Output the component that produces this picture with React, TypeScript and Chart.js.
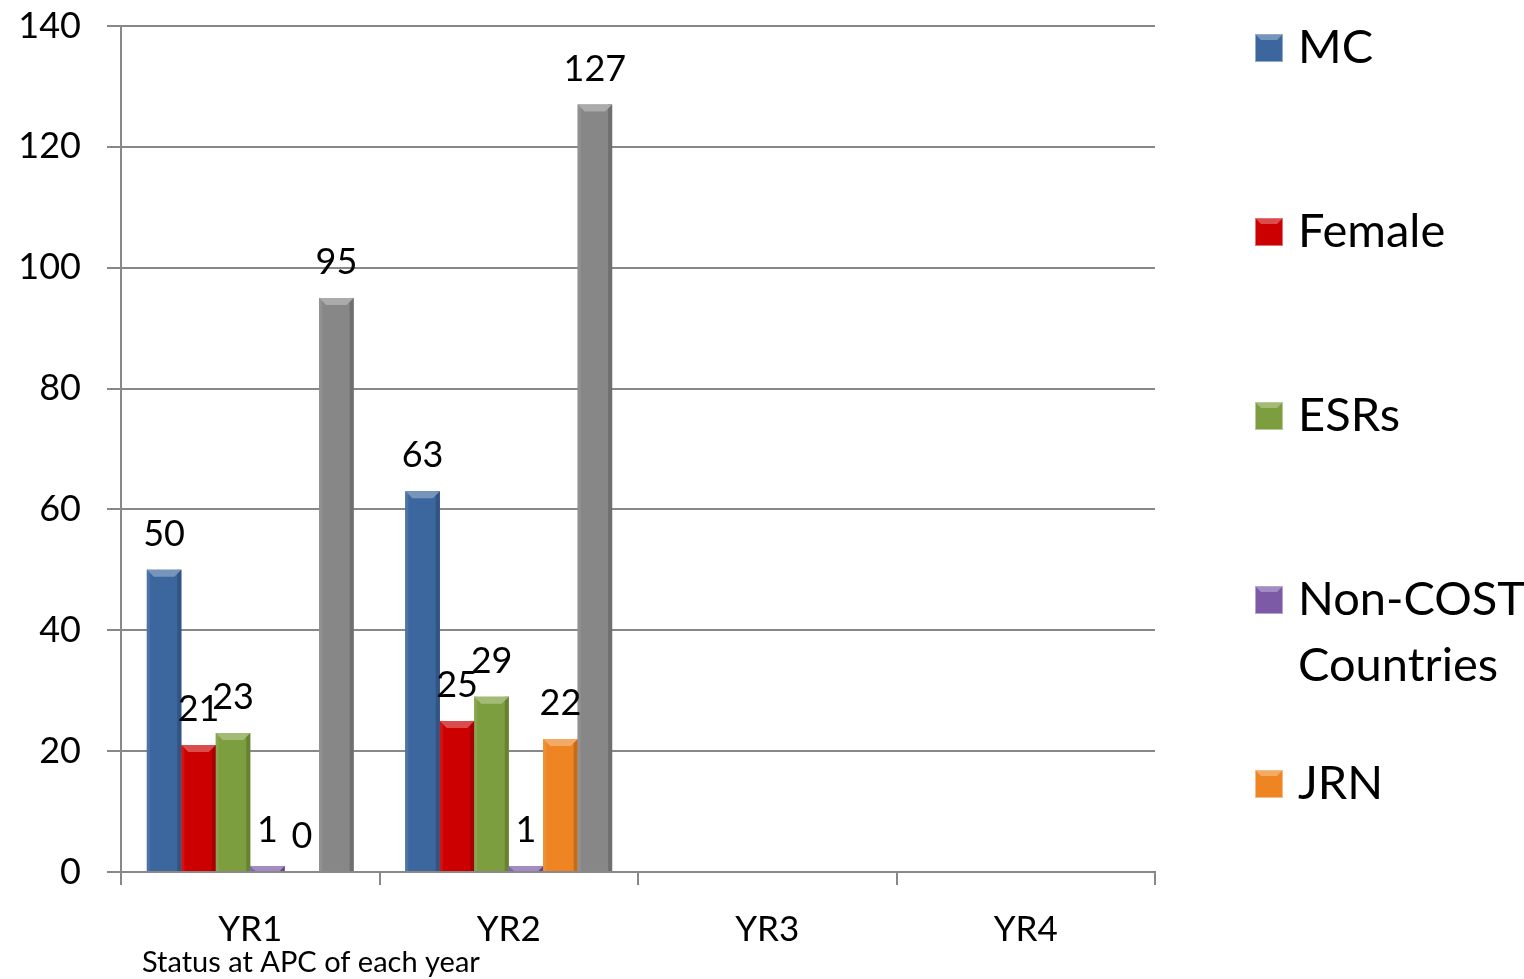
import React, { useEffect, useRef } from "react";
import { Chart, registerables } from "chart.js";

Chart.register(...registerables);

const categories = ["YR1", "YR2", "YR3", "YR4"];
const seriesNames = ["MC", "Female", "ESRs", "Non-COST Countries", "JRN", "Total"];
const mcValues = [50, 63, null, null];
const femaleValues = [21, 25, null, null];
const esrValues = [23, 29, null, null];
const nonCostValues = [1, 1, null, null];
const jrnValues = [0, 22, null, null];
const totalValues = [95, 127, null, null];
const yTicks = [0, 20, 40, 60, 80, 100, 120, 140];
const xTitle = "Status at APC of each year";

const colors = ["#3C679E", "#CC0000", "#7D9E3E", "#7C5AA6", "#EE8522", "#878787"];
const FONT = "Lato, 'Open Sans', sans-serif";

function shade(hex: string, amt: number): string {
  const n = parseInt(hex.slice(1), 16);
  let r = (n >> 16) & 255, g = (n >> 8) & 255, b = n & 255;
  const f = (c: number) => Math.max(0, Math.min(255, Math.round(amt >= 0 ? c + (255 - c) * amt : c * (1 + amt))));
  r = f(r); g = f(g); b = f(b);
  return `rgb(${r},${g},${b})`;
}

const bevelPlugin = {
  id: "bevel",
  afterDatasetsDraw(chart: any) {
    const ctx = chart.ctx;
    chart.data.datasets.forEach((ds: any, di: number) => {
      const meta = chart.getDatasetMeta(di);
      meta.data.forEach((el: any, i: number) => {
        const v = ds.data[i];
        if (v === null || v === undefined) return;
        const left = el.x - el.width / 2;
        const right = el.x + el.width / 2;
        const top = Math.min(el.y, el.base);
        const bottom = Math.max(el.y, el.base);
        const h = bottom - top;
        if (h <= 0) return;
        const base = ds.backgroundColor as string;
        const b = Math.min(7, h);
        ctx.save();
        ctx.fillStyle = shade(base, -0.18);
        ctx.fillRect(right - 4, top, 4, h);
        ctx.fillStyle = shade(base, 0.08);
        ctx.fillRect(left, top, 3, h);
        ctx.fillStyle = shade(base, 0.3);
        ctx.beginPath();
        ctx.moveTo(left, top);
        ctx.lineTo(right, top);
        ctx.lineTo(right - b, top + b);
        ctx.lineTo(left + b, top + b);
        ctx.closePath();
        ctx.fill();
        ctx.restore();
      });
    });
  },
};

const labelPlugin = {
  id: "valueLabels",
  afterDatasetsDraw(chart: any) {
    const ctx = chart.ctx;
    ctx.save();
    ctx.font = `36px ${FONT}`;
    ctx.fillStyle = "#000";
    ctx.textAlign = "center";
    ctx.textBaseline = "alphabetic";
    chart.data.datasets.forEach((ds: any, di: number) => {
      const meta = chart.getDatasetMeta(di);
      meta.data.forEach((el: any, i: number) => {
        const v = ds.data[i];
        if (v === null || v === undefined) return;
        ctx.fillText(String(v), el.x, Math.min(el.y, el.base) - 24);
      });
    });
    ctx.restore();
  },
};

const legendPlugin = {
  id: "customLegend",
  afterDraw(chart: any) {
    const ctx = chart.ctx;
    ctx.save();
    const boxX = 1255;
    const textX = 1298;
    const maxW = 1524 - textX - 2;
    ctx.font = `47px ${FONT}`;
    ctx.textBaseline = "middle";
    ctx.textAlign = "left";
    chart.data.datasets.forEach((ds: any, i: number) => {
      if (ds.hideInLegend) return;
      const cy = 48 + i * 184;
      const col = ds.backgroundColor as string;
      ctx.fillStyle = col;
      ctx.fillRect(boxX, cy - 14, 28, 28);
      ctx.fillStyle = shade(col, 0.3);
      ctx.beginPath();
      ctx.moveTo(boxX, cy - 14);
      ctx.lineTo(boxX + 28, cy - 14);
      ctx.lineTo(boxX + 22, cy - 8);
      ctx.lineTo(boxX + 6, cy - 8);
      ctx.closePath();
      ctx.fill();
      ctx.strokeStyle = shade(col, 0.45);
      ctx.lineWidth = 1;
      ctx.strokeRect(boxX + 0.5, cy - 13.5, 27, 27);
      const words = String(ds.label).split(" ");
      const lines: string[] = [];
      let cur = "";
      words.forEach((w) => {
        const t = cur ? cur + " " + w : w;
        if (ctx.measureText(t).width > maxW && cur) {
          lines.push(cur);
          cur = w;
        } else cur = t;
      });
      if (cur) lines.push(cur);
      ctx.fillStyle = "#000";
      lines.forEach((ln, k) => ctx.fillText(ln, textX, cy + k * 66));
    });
    ctx.font = `29px ${FONT}`;
    ctx.textBaseline = "middle";
    ctx.fillText(xTitle, chart.scales.x.left + 21, 963);
    ctx.restore();
  },
};

export default function App() {
  const ref = useRef<HTMLCanvasElement | null>(null);

  useEffect(() => {
    document.body.style.margin = "0";
    const canvas = ref.current;
    if (!canvas) return;
    const series = [mcValues, femaleValues, esrValues, nonCostValues, jrnValues, totalValues];
    const gridColor = "#888888";
    const chart = new Chart(canvas, {
      type: "bar",
      data: {
        labels: categories,
        datasets: series.map((d, i) => ({
          label: seriesNames[i],
          data: d,
          backgroundColor: colors[i],
          borderWidth: 0,
          categoryPercentage: 0.8,
          barPercentage: 1.0,
          hideInLegend: i === 5,
        })) as any,
      },
      options: {
        responsive: false,
        animation: false,
        devicePixelRatio: 1,
        layout: { padding: { top: 26, right: 369, left: 0, bottom: 0 } },
        plugins: {
          legend: { display: false },
          tooltip: { enabled: false },
          title: { display: false },
        },
        scales: {
          x: {
            grid: {
              drawOnChartArea: false,
              drawTicks: true,
              tickLength: 13,
              color: gridColor,
              lineWidth: 2,
            },
            border: { display: true, color: gridColor, width: 2 },
            ticks: {
              color: "#000",
              font: { family: FONT, size: 35 },
              padding: 24,
            },
            afterFit(scale: any) {
              scale.height = 107;
              scale.paddingLeft = 0;
              scale.paddingRight = 0;
            },
          },
          y: {
            min: 0,
            max: 140,
            afterBuildTicks(scale: any) {
              scale.ticks = yTicks.map((v) => ({ value: v }));
            },
            grid: {
              color: gridColor,
              lineWidth: 2,
              drawTicks: true,
              tickLength: 14,
            },
            border: { display: true, color: gridColor, width: 2 },
            ticks: {
              color: "#000",
              font: { family: FONT, size: 36 },
              padding: 26,
            },
            afterFit(scale: any) {
              scale.width = 121;
              scale.paddingTop = 0;
              scale.paddingBottom = 0;
            },
          },
        },
      },
      plugins: [bevelPlugin, labelPlugin, legendPlugin],
    });
    return () => chart.destroy();
  }, []);

  return (
    <div style={{ width: 1524, height: 979, background: "#fff" }}>
      <canvas ref={ref} width={1524} height={979} style={{ display: "block" }} />
    </div>
  );
}
